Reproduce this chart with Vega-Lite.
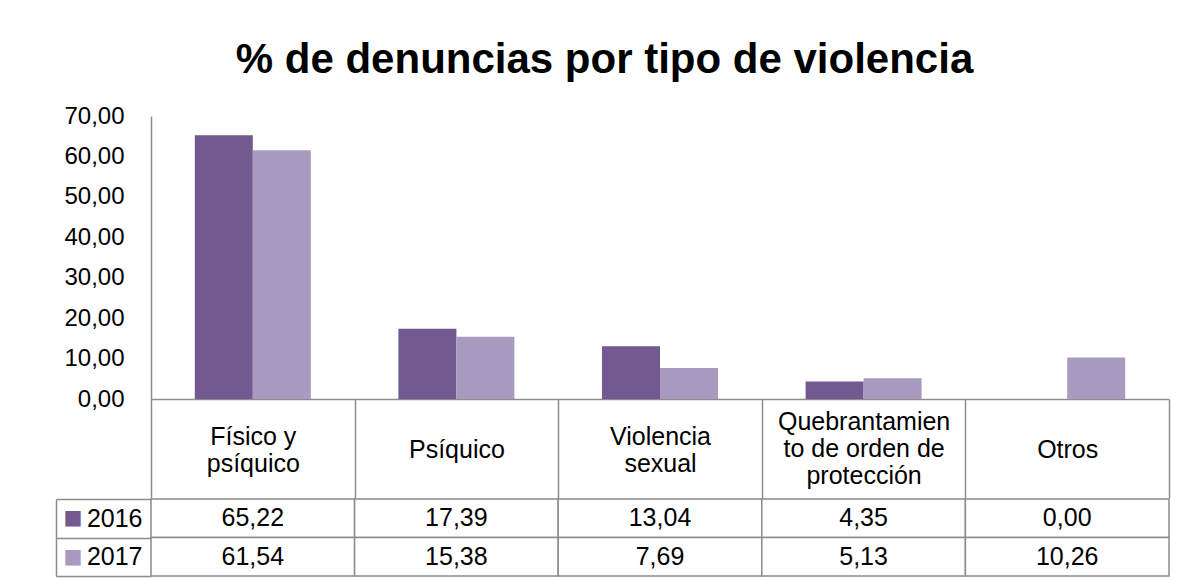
{
  "$schema": "https://vega.github.io/schema/vega-lite/v6.json",
  "padding": {"left": 55, "top": 39, "right": 14, "bottom": 4},
  "background": "white",
  "title": {"text": "% de denuncias por tipo de violencia", "fontSize": 42, "font": "Liberation Sans", "fontWeight": "bold", "color": "#000000", "anchor": "middle", "offset": 22, "dx": -8},
  "data": {"values": [
    {"cat": "Físico y psíquico", "year": "2016", "value": 65.22},
    {"cat": "Físico y psíquico", "year": "2017", "value": 61.54},
    {"cat": "Psíquico", "year": "2016", "value": 17.39},
    {"cat": "Psíquico", "year": "2017", "value": 15.38},
    {"cat": "Violencia sexual", "year": "2016", "value": 13.04},
    {"cat": "Violencia sexual", "year": "2017", "value": 7.69},
    {"cat": "Quebrantamiento de orden de protección", "year": "2016", "value": 4.35},
    {"cat": "Quebrantamiento de orden de protección", "year": "2017", "value": 5.13},
    {"cat": "Otros", "year": "2016", "value": 0.00},
    {"cat": "Otros", "year": "2017", "value": 10.26}
  ]},
  "spacing": -14,
  "resolve": {"scale": {"x": "independent", "y": "independent"}},
  "vconcat": [
    {
      "width": 1018,
      "height": 283,
      "mark": {"type": "bar"},
      "encoding": {
        "x": {"field": "cat", "type": "nominal", "title": null,
          "sort": ["Físico y psíquico", "Psíquico", "Violencia sexual", "Quebrantamiento de orden de protección", "Otros"],
          "scale": {"paddingInner": 0, "paddingOuter": 0},
          "axis": {"orient": "bottom", "labelAngle": 0, "domainColor": "#8c8c8c", "domainWidth": 1.5,
            "ticks": true, "tickBand": "extent", "tickSize": 99, "tickColor": "#8c8c8c", "tickWidth": 1.5,
            "labelBaseline": "middle",
            "labelPadding": {"condition": [
              {"test": "datum.value == 'Quebrantamiento de orden de protección'", "value": -77},
              {"test": "datum.value == 'Físico y psíquico' || datum.value == 'Violencia sexual'", "value": -62}
            ], "value": -49},
            "labelFontSize": 25, "labelLineHeight": 27,
            "labelLimit": 300, "labelOverlap": false, "labelBound": false, "labelFlush": false,
            "labelExpr": "datum.value == 'Físico y psíquico' ? ['Físico y','psíquico'] : datum.value == 'Violencia sexual' ? ['Violencia','sexual'] : datum.value == 'Quebrantamiento de orden de protección' ? ['Quebrantamien','to de orden de','protección'] : datum.label"}
        },
        "xOffset": {"field": "year", "type": "nominal", "scale": {"paddingInner": 0, "paddingOuter": 0.755}},
        "y": {"field": "value", "type": "quantitative", "title": null,
          "scale": {"domain": [0, 70], "nice": false, "zero": true},
          "axis": {"values": [0, 10, 20, 30, 40, 50, 60, 70], "format": ".2f", "grid": false, "ticks": false,
            "domainColor": "#8c8c8c", "domainWidth": 1.5, "labelPadding": 27, "labelFontSize": 24}
        },
        "color": {"field": "year", "type": "nominal", "scale": {"domain": ["2016", "2017"], "range": ["#72598F", "#A99ABF"]}, "legend": null}
      }
    },
    {
      "width": 1018,
      "height": 77,
      "resolve": {"axis": {"y": "independent"}},
      "layer": [
        {
          "mark": {"type": "rect", "fill": "white", "stroke": "#8c8c8c", "strokeWidth": 1.5},
          "encoding": {
            "x": {"field": "cat", "type": "nominal", "title": null,
              "sort": ["Físico y psíquico", "Psíquico", "Violencia sexual", "Quebrantamiento de orden de protección", "Otros"],
              "scale": {"paddingInner": 0, "paddingOuter": 0}, "axis": null},
            "y": {"field": "year", "type": "nominal", "title": null,
              "scale": {"paddingInner": 0, "paddingOuter": 0},
              "axis": {"orient": "left", "labelFontSize": 25, "labelPadding": -86, "domain": false,
                "ticks": true, "tickBand": "extent", "tickSize": 95, "tickColor": "#8c8c8c", "tickWidth": 1.5}}
          }
        },
        {
          "mark": {"type": "text", "fontSize": 25, "font": "Liberation Sans", "color": "#000000"},
          "encoding": {
            "x": {"field": "cat", "type": "nominal", "title": null,
              "sort": ["Físico y psíquico", "Psíquico", "Violencia sexual", "Quebrantamiento de orden de protección", "Otros"],
              "axis": null},
            "y": {"field": "year", "type": "nominal", "title": null,
              "axis": {"orient": "left", "offset": 95, "labelExpr": "'■'", "labelFont": "DejaVu Sans", "labelFontSize": 20,
                "labelColor": {"condition": {"test": "datum.value == '2016'", "value": "#72598F"}, "value": "#A99ABF"},
                "labelPadding": -26, "ticks": false, "domain": true, "domainColor": "#8c8c8c", "domainWidth": 1.5}},
            "text": {"field": "value", "type": "quantitative", "format": ".2f"}
          }
        }
      ]
    }
  ],
  "config": {
    "locale": {"number": {"decimal": ",", "thousands": ".", "grouping": [3], "currency": ["", " €"]}},
    "view": {"stroke": null},
    "font": "Liberation Sans",
    "axis": {"labelFont": "Liberation Sans", "labelColor": "#000000"}
  }
}
